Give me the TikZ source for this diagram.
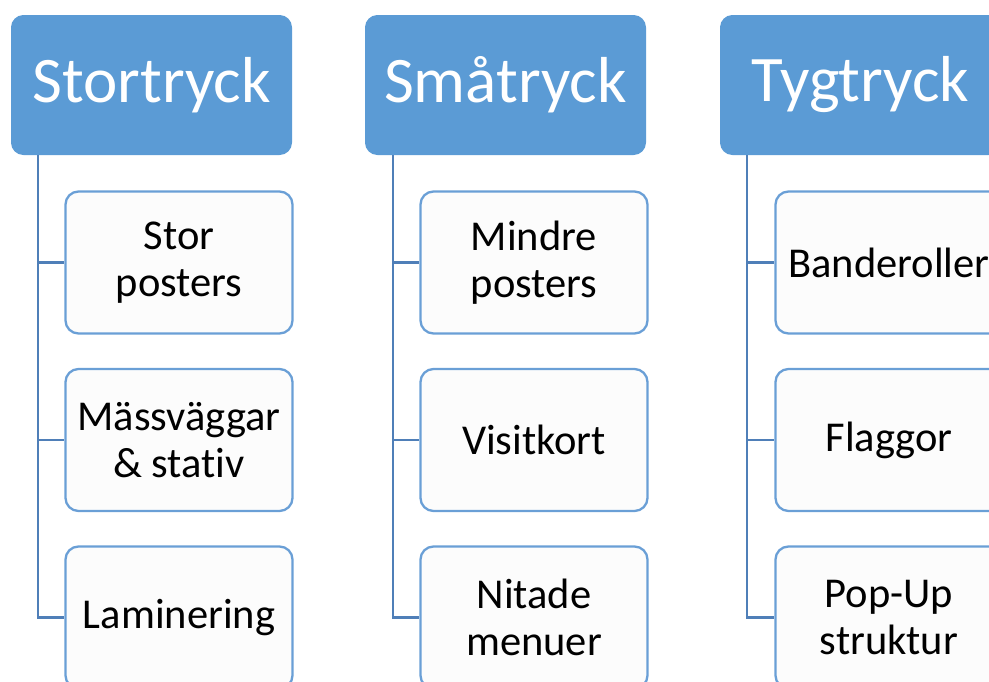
\documentclass[tikz,border=0pt]{standalone}
\usepackage{fontspec}
\setmainfont[Ligatures=NoCommon]{Carlito}
\definecolor{headblue}{HTML}{5B9BD5}
\definecolor{edgeblue}{HTML}{6A9FD6}
\definecolor{linkblue}{HTML}{4F7FB8}
\definecolor{boxfill}{HTML}{FCFCFC}
\begin{document}
\begin{tikzpicture}[x=1pt,y=-1pt,
  headbox/.style={draw=headblue, fill=headblue, line width=1pt, rounded corners=12pt,
    minimum width=280pt, minimum height=139pt, text=white, font=\fontsize{65}{70}\selectfont, inner sep=0pt},
  childbox/.style={draw=edgeblue, fill=boxfill, line width=2.3pt, rounded corners=13pt,
    minimum width=227pt, minimum height=142pt, text=black, align=center,
    font=\fontsize{42.5}{47}\selectfont, inner sep=0pt},
  link/.style={draw=linkblue, line width=2.3pt}]
\useasboundingbox (0,0) rectangle (989,681);
\clip (0,0) rectangle (989,681);
% column 1
\node[headbox] (h1) at (151.5,85) {Stortryck};
\node[childbox] (a1) at (179,262.5) {Stor\\posters};
\node[childbox] (a2) at (179,440) {Mässväggar\\\& stativ};
\node[childbox] (a3) at (179,617.5) {Laminering};
\coordinate (v1) at (38,0);
\draw[link] (v1 |- h1.south) |- (a3.west);
\draw[link] (v1 |- a1.west) -- (a1.west);
\draw[link] (v1 |- a2.west) -- (a2.west);
% column 2
\node[headbox] (h2) at (505.5,85) {Småtryck};
\node[childbox] (b1) at (534,262.5) {Mindre\\posters};
\node[childbox] (b2) at (534,440) {Visitkort};
\node[childbox] (b3) at (534,617.5) {Nitade\\menuer};
\coordinate (v2) at (393,0);
\draw[link] (v2 |- h2.south) |- (b3.west);
\draw[link] (v2 |- b1.west) -- (b1.west);
\draw[link] (v2 |- b2.west) -- (b2.west);
% column 3
\node[headbox] (h3) at (860.5,85) {Tygtryck};
\node[childbox] (c1) at (889,262.5) {Banderoller};
\node[childbox] (c2) at (889,440) {Flaggor};
\node[childbox] (c3) at (889,617.5) {Pop-Up\\struktur};
\coordinate (v3) at (747,0);
\draw[link] (v3 |- h3.south) |- (c3.west);
\draw[link] (v3 |- c1.west) -- (c1.west);
\draw[link] (v3 |- c2.west) -- (c2.west);
\end{tikzpicture}
\end{document}
